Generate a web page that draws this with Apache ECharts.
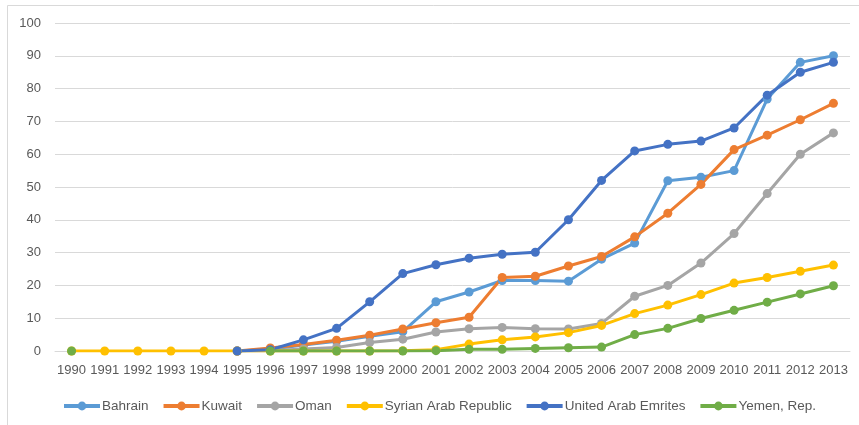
<!DOCTYPE html>
<html>
<head>
<meta charset="utf-8">
<script src="https://cdn.jsdelivr.net/npm/echarts@6/dist/echarts.min.js"></script>
<style>
  html, body { margin: 0; padding: 0; background: #fff; }
  #chart { width: 859px; height: 425px; }
</style>
</head>
<body>
<div id="chart"></div>
<script>
// Years on the x axis
const years = ['1990','1991','1992','1993','1994','1995','1996','1997','1998','1999','2000','2001',
               '2002','2003','2004','2005','2006','2007','2008','2009','2010','2011','2012','2013'];

// Values per country (null = no data for that year)
const bahrain = [null,null,null,null,null,0,0.5,1.8,3.0,4.5,5.9,15.0,18.0,21.5,21.5,21.3,28.0,32.9,51.9,53.0,55.0,76.8,88.0,90.0];
const kuwait  = [null,null,null,null,null,0,0.9,2.0,3.3,4.8,6.7,8.6,10.3,22.4,22.8,25.9,28.8,34.8,42.0,50.8,61.4,65.8,70.5,75.5];
const oman    = [null,null,null,null,null,0,0.1,0.6,1.1,2.6,3.6,5.8,6.8,7.2,6.8,6.7,8.4,16.7,20.0,26.8,35.8,48.0,60.0,66.5];
const syria   = [0,0,0,0,0,0,0,0,0,0,0.1,0.4,2.1,3.4,4.3,5.6,7.8,11.4,14.0,17.2,20.7,22.4,24.3,26.2];
const uae     = [null,null,null,null,null,0,0.4,3.4,6.9,15.0,23.6,26.3,28.3,29.5,30.1,40.0,52.0,61.0,63.0,64.0,68.0,78.0,85.0,88.0];
const yemen   = [0,null,null,null,null,null,0,0,0,0,0,0.1,0.5,0.5,0.8,1.0,1.2,5.0,6.9,9.9,12.4,14.9,17.4,19.9];

// Y axis scale
const yMin = 0, yMax = 100, yStep = 10;

const seriesDefs = [
  { name: 'Bahrain', data: bahrain, color: '#5B9BD5' },
  { name: 'Kuwait', data: kuwait, color: '#ED7D31' },
  { name: 'Oman', data: oman, color: '#A5A5A5' },
  { name: 'Syrian Arab Republic', data: syria, color: '#FFC000' },
  { name: 'United Arab Emrites', data: uae, color: '#4472C4' },
  { name: 'Yemen, Rep.', data: yemen, color: '#70AD47' }
];

const chart = echarts.init(document.getElementById('chart'), null, { renderer: 'canvas' });
const fontFamily = 'Liberation Sans, Arial, sans-serif';

chart.setOption({
  animation: false,
  backgroundColor: '#ffffff',
  graphic: [
    // chart-area frame (left and top edges visible)
    { type: 'line', shape: { x1: 7.5, y1: 5.5, x2: 7.5, y2: 425 }, style: { stroke: '#d9d9d9', lineWidth: 1 } },
    { type: 'line', shape: { x1: 7.5, y1: 5.5, x2: 859, y2: 5.5 }, style: { stroke: '#d9d9d9', lineWidth: 1 } }
  ],
  grid: { left: 55, right: 9, top: 23, bottom: 74, containLabel: false },
  legend: {
    bottom: 7,
    left: 57,
    itemWidth: 36,
    itemHeight: 11,
    itemGap: 13,
    lineStyle: { width: 4 },
    textStyle: { color: '#595959', fontSize: 13.5, fontFamily: fontFamily, padding: [0, 0, 0, -3] },
    data: seriesDefs.map(s => s.name)
  },
  xAxis: {
    type: 'category',
    data: years,
    boundaryGap: true,
    axisLine: { show: true, lineStyle: { color: '#d9d9d9', width: 1 } },
    axisTick: { show: false },
    axisLabel: { color: '#595959', fontSize: 13, fontFamily: fontFamily, interval: 0, margin: 13 }
  },
  yAxis: {
    type: 'value',
    min: yMin,
    max: yMax,
    interval: yStep,
    axisLine: { show: false },
    axisTick: { show: false },
    splitLine: { lineStyle: { color: '#d9d9d9', width: 1 } },
    axisLabel: { color: '#595959', fontSize: 13, fontFamily: fontFamily, margin: 14 }
  },
  series: seriesDefs.map(s => ({
    name: s.name,
    type: 'line',
    data: s.data,
    connectNulls: false,
    symbol: 'circle',
    symbolSize: 9,
    showAllSymbol: true,
    lineStyle: { color: s.color, width: 3 },
    itemStyle: { color: s.color, borderColor: s.color, borderWidth: 0 },
    emphasis: { disabled: true }
  }))
});
</script>
</body>
</html>
